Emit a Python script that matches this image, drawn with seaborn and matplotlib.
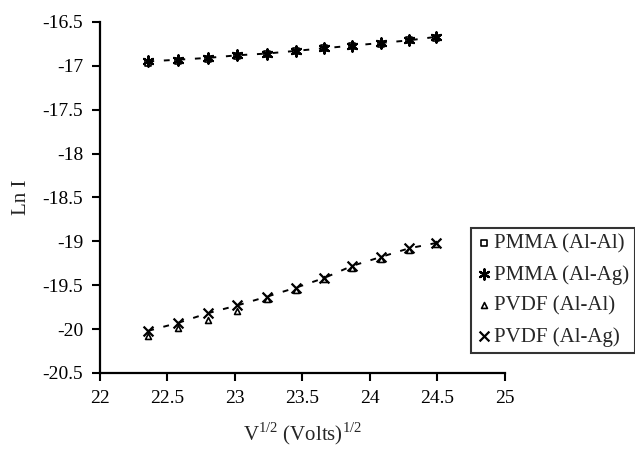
import matplotlib
matplotlib.use("Agg")
import matplotlib.pyplot as plt
import seaborn as sns
import pandas as pd

x_vals = [22.36, 22.58, 22.80, 23.02, 23.24, 23.45, 23.66, 23.87, 24.08, 24.29, 24.49]
pmma_alal = [-16.97, -16.94, -16.92, -16.89, -16.86, -16.83, -16.80, -16.77, -16.75, -16.71, -16.68]
pmma_alag = [-16.95, -16.93, -16.91, -16.88, -16.86, -16.83, -16.80, -16.77, -16.74, -16.71, -16.67]
pvdf_alal = [-20.08, -19.99, -19.90, -19.80, -19.66, -19.55, -19.43, -19.30, -19.20, -19.10, -19.03]
pvdf_alag = [-20.02, -19.93, -19.82, -19.73, -19.63, -19.53, -19.42, -19.28, -19.18, -19.08, -19.02]
labels = ["PMMA (Al-Al)", "PMMA (Al-Ag)", "PVDF (Al-Al)", "PVDF (Al-Ag)"]
x_ticks = [22, 22.5, 23, 23.5, 24, 24.5, 25]
y_ticks = [-16.5, -17, -17.5, -18, -18.5, -19, -19.5, -20, -20.5]

sns.set_theme(style="white")
plt.rcParams['font.family'] = ['Liberation Serif', 'DejaVu Serif']
plt.rcParams['mathtext.fontset'] = 'custom'
plt.rcParams['mathtext.rm'] = 'Liberation Serif'

fig = plt.figure(figsize=(6.35, 4.57), dpi=100)
ax = fig.add_axes([0.157, 0.184, 0.638, 0.768])

series = [pmma_alal, pmma_alag, pvdf_alal, pvdf_alag]
markers = ['s', (6, 2, 0), '^', 'x']
sizes = [16, 55, 18, 50]
for i, (ys, lab, m, s) in enumerate(zip(series, labels, markers, sizes)):
    df = pd.DataFrame({"x": x_vals, "y": ys})
    if i in (1, 3):
        sns.lineplot(data=df, x="x", y="y", ax=ax, color="black", linewidth=1.4,
                     linestyle=(0, (3, 5)), legend=False)
    if m in ('s', '^'):
        sns.scatterplot(data=df, x="x", y="y", ax=ax, marker=m, s=s,
                        facecolor="white", edgecolor="black", linewidth=1.2,
                        label=lab, zorder=3)
    else:
        sns.scatterplot(data=df, x="x", y="y", ax=ax, marker=m, s=s,
                        color="black", linewidth=1.6, label=lab, zorder=3)

ax.set_xlim(22, 25)
ax.set_ylim(-20.5, -16.5)
ax.set_xticks(x_ticks)
ax.set_xticklabels([f"{t:g}" for t in x_ticks])
ax.set_yticks(y_ticks)
ax.set_yticklabels([f"{t:g}" for t in y_ticks])
for sp in ['top', 'right']:
    ax.spines[sp].set_visible(False)
for sp in ['left', 'bottom']:
    ax.spines[sp].set_color('black')
    ax.spines[sp].set_linewidth(1.6)
ax.tick_params(axis='both', direction='out', length=6, width=1.5, colors='black',
               labelsize=14, left=True, bottom=True, pad=6)
ax.set_xlabel(r"V$^{\mathregular{1/2}}$ (Volts)$^{\mathregular{1/2}}$", fontsize=15, labelpad=10)
ax.set_ylabel("Ln I", fontsize=15, labelpad=8)

leg = ax.legend(loc='upper left', bbox_to_anchor=(0.742, 0.502), bbox_transform=fig.transFigure,
                frameon=True, fancybox=False, fontsize=15, handlelength=0.6,
                handletextpad=0.2, labelspacing=0.55, borderpad=0.3, borderaxespad=0)
leg.get_frame().set_edgecolor('black')
leg.get_frame().set_linewidth(1.5)

fig.savefig("out.png", dpi=100)
